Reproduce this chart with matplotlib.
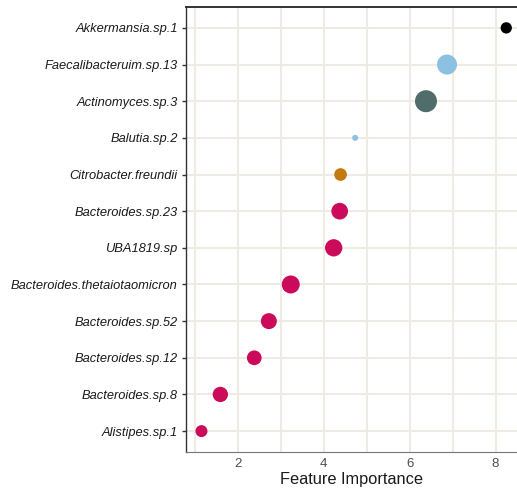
import numpy as np
import matplotlib
matplotlib.use("Agg")
import matplotlib.pyplot as plt
from matplotlib.ticker import MultipleLocator

plt.rcParams["font.family"] = ["Liberation Sans", "DejaVu Sans"]

# ── Data (bottom row first) ───────────────────────
features = [
    "Alistipes.sp.1", "Bacteroides.sp.8", "Bacteroides.sp.12",
    "Bacteroides.sp.52", "Bacteroides.thetaiotaomicron", "UBA1819.sp",
    "Bacteroides.sp.23", "Citrobacter.freundii", "Balutia.sp.2",
    "Actinomyces.sp.3", "Faecalibacteruim.sp.13", "Akkermansia.sp.1",
]
importance = [1.15, 1.59, 2.38, 2.72, 3.23, 4.23, 4.37, 4.39, 4.73, 6.38, 6.87, 8.25]
abundance = [12, 15.3, 14.7, 16, 18, 17.3, 16.7, 12.7, 6, 22, 20, 11.3]
groups = ["Bacteroidota", "Bacteroidota", "Bacteroidota", "Bacteroidota",
          "Bacteroidota", "Bacteroidota", "Bacteroidota", "Pseudomonadota",
          "Bacillota", "Actinomycetota", "Bacillota", "Verrucomicrobiota"]

GROUP_COLORS = {
    "Bacteroidota": "#CC0A5A",
    "Pseudomonadota": "#C47A10",
    "Bacillota": "#8CC0E0",
    "Actinomycetota": "#506C6B",
    "Verrucomicrobiota": "#000000",
}

# ── Plot ───────────────────────────────────────────
fig = plt.figure(figsize=(5.17, 4.93), dpi=100)
ax = fig.add_axes([186 / 517, 1 - 452 / 493, 1 - 186 / 517, (452 - 7) / 493])

y = np.arange(1, len(features) + 1)
colors = [GROUP_COLORS[g] for g in groups]
sizes = [(d * 0.72) ** 2 for d in abundance]
ax.scatter(importance, y, s=sizes, c=colors, edgecolors="none", zorder=3)

ax.set_xlim(0.79, 8.5)
ax.set_ylim(0.43, len(features) + 0.57)
ax.set_yticks(y)
ax.set_yticklabels(features, fontstyle="italic", fontsize=9.3, color="#1a1a1a")
ax.xaxis.set_major_locator(MultipleLocator(2))
ax.xaxis.set_minor_locator(MultipleLocator(1))
ax.tick_params(axis="x", which="both", length=0, labelsize=9.5, colors="#4d4d4d", pad=4)
ax.tick_params(axis="y", length=3, width=1, color="#333333", pad=3)

ax.grid(True, which="both", color="#EEEBE5", linewidth=1.5, zorder=0)
ax.set_axisbelow(True)

ax.spines["right"].set_visible(False)
ax.spines["top"].set_color("#333333")
ax.spines["top"].set_linewidth(1.4)
ax.spines["left"].set_color("#333333")
ax.spines["left"].set_linewidth(1.0)
ax.spines["bottom"].set_color("#777777")
ax.spines["bottom"].set_linewidth(0.8)

ax.set_xlabel("Feature Importance", fontsize=11.8, color="#1a1a1a", labelpad=2)

fig.savefig("out.png", dpi=100)
